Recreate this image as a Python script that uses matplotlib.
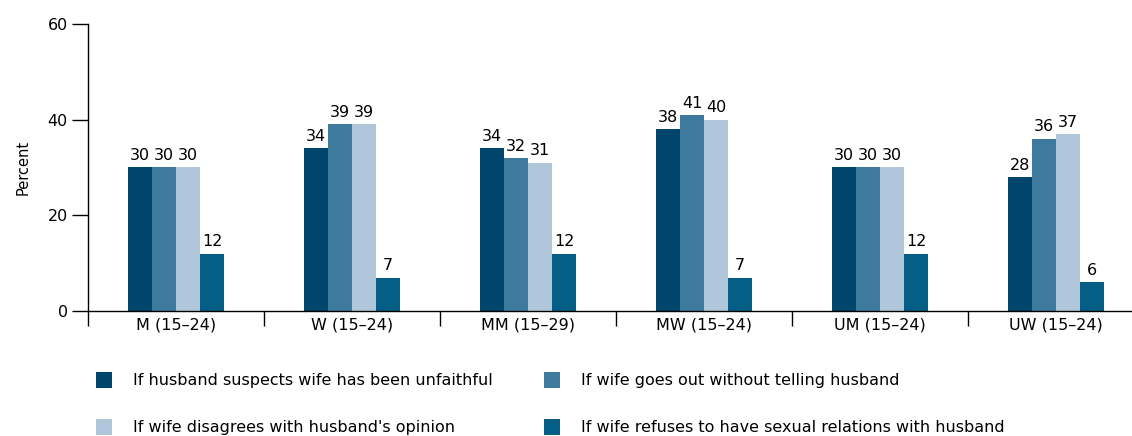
import numpy as np
import matplotlib
matplotlib.use("Agg")
import matplotlib.pyplot as plt
from matplotlib.patches import Rectangle

# groups and series
groups = ["M (15\u201324)", "W (15\u201324)", "MM (15\u201329)", "MW (15\u201324)", "UM (15\u201324)", "UW (15\u201324)"]
series = [
    "If husband suspects wife has been unfaithful",
    "If wife goes out without telling husband",
    "If wife disagrees with husband's opinion",
    "If wife refuses to have sexual relations with husband",
]
unfaithful = [30, 34, 34, 38, 30, 28]
goes_out = [30, 39, 32, 41, 30, 36]
disagrees = [30, 39, 31, 40, 30, 37]
refuses = [12, 7, 12, 7, 12, 6]
colors = ["#00456c", "#3d7a9e", "#b0c7db", "#045e86"]

plt.rcParams['font.family'] = ['DejaVu Sans']
plt.rcParams['font.size'] = 11

W, H = 1132, 436
fig = plt.figure(figsize=(W / 100, H / 100), dpi=100)
ax = fig.add_axes([88 / W, 125 / H, 1056 / W, 287 / H])

vals = [unfaithful, goes_out, disagrees, refuses]
x = np.arange(len(groups)) + 0.5
bw = 24 / 176
for i, v in enumerate(vals):
    pos = x + (i - 1.5) * bw
    ax.bar(pos, v, width=bw, color=colors[i], linewidth=0, clip_on=False)
    for xp, val in zip(pos, v):
        ax.text(xp, val + 0.9, str(val), ha='center', va='bottom', fontsize=11.5)

ax.set_xlim(0, 6)
ax.set_ylim(0, 60)
ax.set_yticks([0, 20, 40, 60])
ax.tick_params(axis='y', length=11.5, width=1, direction='out', pad=3, labelsize=11.5)
ax.set_xticks(np.arange(0, 7))
ax.set_xticklabels([])
ax.set_xticks(x, minor=True)
ax.set_xticklabels(groups, minor=True)
ax.tick_params(axis='x', which='major', length=11, width=1, direction='out')
ax.tick_params(axis='x', which='minor', length=0, pad=5, labelsize=11.5)
for s in ['top', 'right']:
    ax.spines[s].set_visible(False)
ax.spines['left'].set_linewidth(1)
ax.spines['bottom'].set_linewidth(1)
ax.set_ylabel("Percent", fontsize=10.5, labelpad=12)

# legend drawn by hand
leg_x = [96, 544]
leg_y = [380, 427]
for i, name in enumerate(series):
    col, row = i % 2, i // 2
    sx, sy = leg_x[col], leg_y[row]
    fig.add_artist(Rectangle((sx / W, 1 - (sy + 8) / H), 16 / W, 16 / H,
                             transform=fig.transFigure, color=colors[i], linewidth=0))
    fig.text((sx + 37) / W, 1 - sy / H, name, va='center', ha='left', fontsize=11.5)

fig.savefig("out.png", dpi=100)
